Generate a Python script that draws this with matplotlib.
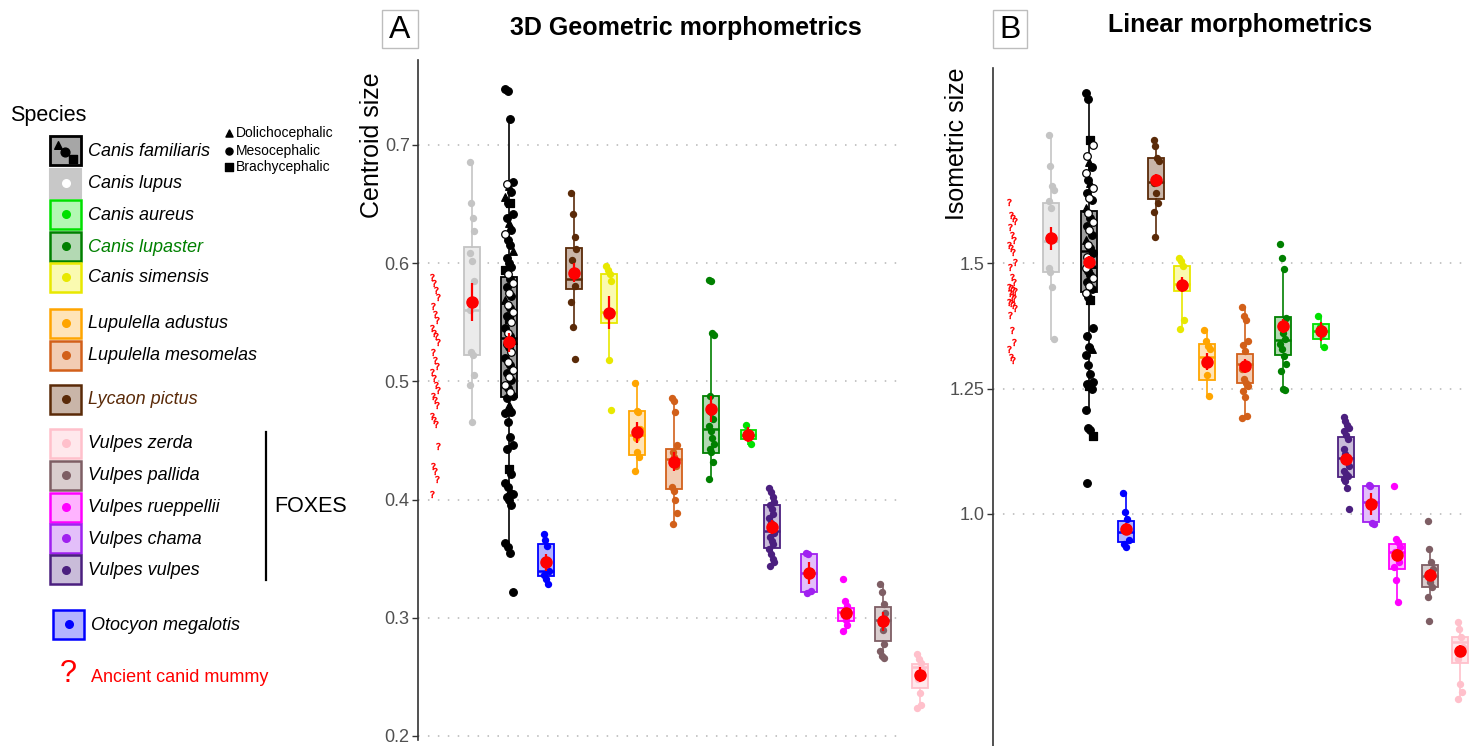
import matplotlib.pyplot as plt
from matplotlib.patches import Rectangle

plt.rcParams['font.family'] = ['Liberation Sans', 'DejaVu Sans']

# species in plotting order
species = ["Canis lupus", "Canis familiaris", "Otocyon megalotis", "Lycaon pictus",
           "Canis simensis", "Lupulella adustus", "Lupulella mesomelas", "Canis lupaster",
           "Canis aureus", "Vulpes vulpes", "Vulpes chama", "Vulpes rueppellii",
           "Vulpes pallida", "Vulpes zerda"]
colors = ["#C4C4C4", "#000000", "#0000FF", "#5A2A08", "#E8E800", "#FFA500", "#D2601A",
          "#008000", "#00E000", "#4B1F7F", "#A020F0", "#FF00FF", "#7E5E64", "#FFC0CB"]
fills = ["#EBEBEB", "#9E9E9E", "#B3B3FF", "#C9B5A8", "#FAFAB0", "#FFE4B8", "#F2CCB3",
         "#B3D9B3", "#B3F8B3", "#C9BCD9", "#E3BFFA", "#FFB3FF", "#D9CDCE", "#FFE8EC"]

# ---------- panel A : centroid size ----------
a_lo   = [0.466, 0.355, 0.329, 0.546, 0.518, 0.424, 0.379, 0.417, 0.447, 0.344, 0.321, 0.289, 0.266, 0.224]
a_q1   = [0.522, 0.487, 0.335, 0.578, 0.549, 0.438, 0.409, 0.439, 0.451, 0.359, 0.322, 0.297, 0.280, 0.241]
a_med  = [0.560, 0.537, 0.340, 0.587, 0.559, 0.455, 0.434, 0.460, 0.455, 0.373, 0.338, 0.305, 0.298, 0.258]
a_q3   = [0.614, 0.588, 0.362, 0.613, 0.591, 0.475, 0.443, 0.488, 0.459, 0.395, 0.354, 0.308, 0.309, 0.261]
a_hi   = [0.686, 0.722, 0.371, 0.659, 0.598, 0.499, 0.486, 0.539, 0.463, 0.410, 0.355, 0.314, 0.329, 0.269]
a_mean = [0.567, 0.533, 0.347, 0.592, 0.558, 0.457, 0.432, 0.477, 0.455, 0.377, 0.338, 0.304, 0.297, 0.252]
a_err  = [0.016, 0.008, 0.007, 0.008, 0.014, 0.009, 0.008, 0.011, 0.006, 0.006, 0.009, 0.004, 0.008, 0.006]

a_pts = [
    [0.686, 0.651, 0.638, 0.627, 0.609, 0.602, 0.585, 0.560, 0.525, 0.522, 0.505, 0.497, 0.466],
    [],
    [0.371, 0.366, 0.361, 0.340, 0.336, 0.333, 0.329],
    [0.659, 0.642, 0.622, 0.612, 0.603, 0.590, 0.581, 0.567, 0.546, 0.519],
    [0.598, 0.594, 0.591, 0.585, 0.555, 0.518, 0.476],
    [0.499, 0.475, 0.474, 0.460, 0.452, 0.440, 0.436, 0.424],
    [0.486, 0.483, 0.474, 0.446, 0.440, 0.436, 0.428, 0.411, 0.407, 0.400, 0.389, 0.379],
    [0.586, 0.585, 0.541, 0.539, 0.488, 0.474, 0.468, 0.462, 0.458, 0.452, 0.447, 0.443, 0.440, 0.432, 0.417],
    [0.463, 0.457, 0.453, 0.447],
    [0.410, 0.406, 0.402, 0.398, 0.395, 0.392, 0.388, 0.384, 0.380, 0.376, 0.372, 0.368, 0.365,
     0.362, 0.358, 0.354, 0.350, 0.347, 0.344],
    [0.355, 0.354, 0.340, 0.323, 0.321],
    [0.333, 0.314, 0.310, 0.306, 0.302, 0.298, 0.294, 0.289],
    [0.329, 0.322, 0.312, 0.304, 0.296, 0.290, 0.278, 0.272, 0.268, 0.266],
    [0.269, 0.265, 0.262, 0.256, 0.248, 0.236, 0.226, 0.224],
]
# domestic dogs: value and skull type (d dolicho, m meso, b brachy, w white)
a_dog = [0.747, 0.746, 0.722, 0.669, 0.667, 0.665, 0.660, 0.656, 0.651, 0.651, 0.642, 0.638,
         0.634, 0.628, 0.625, 0.620, 0.615, 0.610, 0.604, 0.600, 0.597, 0.594, 0.591, 0.587,
         0.583, 0.580, 0.575, 0.572, 0.569, 0.565, 0.562, 0.559, 0.555, 0.553, 0.550, 0.545,
         0.541, 0.538, 0.535, 0.532, 0.529, 0.525, 0.520, 0.516, 0.514, 0.510, 0.507, 0.504,
         0.501, 0.497, 0.494, 0.491, 0.488, 0.486, 0.480, 0.474, 0.473, 0.466, 0.453, 0.446,
         0.443, 0.426, 0.422, 0.414, 0.411, 0.408, 0.405, 0.402, 0.400, 0.395, 0.363, 0.360,
         0.355, 0.322]
a_dog_type = "mmmmwdmdmbmmdmwmmdmmmbwmwmwmdwmwmbwmwmdwmwmwmwmwmwmwmmdmmmmmmbmmmdmmmmmmm"
a_mummy = [0.588, 0.583, 0.577, 0.571, 0.564, 0.557, 0.552, 0.545, 0.541, 0.538, 0.533, 0.525,
           0.518, 0.513, 0.508, 0.503, 0.497, 0.493, 0.488, 0.484, 0.480, 0.471, 0.467, 0.464,
           0.445, 0.428, 0.424, 0.417, 0.405]

# ---------- panel B : isometric size ----------
b_lo   = [1.349, 1.207, 0.934, 1.553, 1.368, 1.235, 1.191, 1.247, 1.334, 1.051, 0.980, 0.824, 0.835, 0.632]
b_q1   = [1.483, 1.442, 0.944, 1.628, 1.445, 1.267, 1.262, 1.317, 1.349, 1.073, 0.985, 0.890, 0.855, 0.702]
b_med  = [1.545, 1.525, 0.965, 1.663, 1.459, 1.314, 1.299, 1.347, 1.365, 1.111, 1.023, 0.924, 0.876, 0.745]
b_q3   = [1.620, 1.604, 0.986, 1.711, 1.495, 1.340, 1.319, 1.392, 1.379, 1.154, 1.056, 0.940, 0.898, 0.754]
b_hi   = [1.756, 1.827, 1.041, 1.746, 1.510, 1.367, 1.413, 1.489, 1.394, 1.193, 1.057, 0.950, 0.930, 0.785]
b_mean = [1.550, 1.503, 0.971, 1.666, 1.457, 1.304, 1.296, 1.374, 1.364, 1.109, 1.020, 0.918, 0.879, 0.727]
b_err  = [0.023, 0.012, 0.012, 0.012, 0.015, 0.017, 0.014, 0.014, 0.018, 0.010, 0.022, 0.012, 0.012, 0.012]

b_pts = [
    [1.756, 1.694, 1.654, 1.646, 1.625, 1.610, 1.548, 1.490, 1.483, 1.452, 1.349],
    [],
    [1.041, 1.003, 0.990, 0.948, 0.940, 0.934],
    [1.746, 1.733, 1.710, 1.705, 1.660, 1.640, 1.620, 1.603, 1.553],
    [1.510, 1.505, 1.495, 1.387, 1.368],
    [1.367, 1.345, 1.335, 1.330, 1.300, 1.277, 1.235],
    [1.413, 1.394, 1.387, 1.345, 1.338, 1.325, 1.300, 1.290, 1.270, 1.262, 1.255, 1.245, 1.233, 1.195, 1.191],
    [1.538, 1.510, 1.489, 1.390, 1.375, 1.360, 1.350, 1.340, 1.330, 1.315, 1.300, 1.285, 1.250, 1.247],
    [1.394, 1.372, 1.358, 1.334],
    [1.193, 1.185, 1.178, 1.172, 1.165, 1.158, 1.150, 1.130, 1.120, 1.110, 1.095, 1.085, 1.080,
     1.075, 1.070, 1.065, 1.051, 1.009],
    [1.057, 1.055, 0.982, 0.980],
    [1.056, 0.950, 0.945, 0.935, 0.925, 0.915, 0.905, 0.895, 0.868, 0.824],
    [0.987, 0.930, 0.905, 0.890, 0.880, 0.865, 0.855, 0.835, 0.787],
    [0.785, 0.770, 0.754, 0.735, 0.710, 0.660, 0.645, 0.632],
]
b_dog = [1.840, 1.827, 1.746, 1.736, 1.713, 1.703, 1.693, 1.680, 1.666, 1.660, 1.650, 1.640,
         1.630, 1.626, 1.610, 1.600, 1.590, 1.583, 1.575, 1.566, 1.556, 1.546, 1.536, 1.530,
         1.520, 1.512, 1.505, 1.498, 1.490, 1.484, 1.476, 1.470, 1.462, 1.455, 1.448, 1.440,
         1.432, 1.427, 1.370, 1.355, 1.334, 1.330, 1.317, 1.297, 1.280, 1.264, 1.260, 1.255,
         1.250, 1.207, 1.171, 1.167, 1.156, 1.061]
b_dog_type = "mmbwwdmwmdwmwmdwmwmwmdwmmwmdwmmwmwmwmbmmmdmmmmmbmmmmbm"
b_mummy = [1.623, 1.596, 1.590, 1.585, 1.573, 1.556, 1.546, 1.537, 1.530, 1.523, 1.503, 1.493,
           1.473, 1.463, 1.452, 1.450, 1.447, 1.445, 1.440, 1.433, 1.430, 1.423, 1.420, 1.417,
           1.410, 1.397, 1.367, 1.343, 1.330, 1.314, 1.307]

# slot positions of the columns (mummy first, then species order)
a_slot = [0, 1.0, 2.0, 3.0, 3.75, 4.7, 5.47, 6.47, 7.47, 8.47, 9.1, 10.1, 11.1, 12.1, 13.1]
b_slot = [0, 1.03, 2.03, 3.0, 3.79, 4.47, 5.13, 6.13, 7.13, 8.13, 8.79, 9.45, 10.13, 11.0, 11.79]

W, H = 1475, 746
fig = plt.figure(figsize=(W / 100, H / 100), dpi=100)


def px_axes(l, t, r, b):
    return fig.add_axes([l / W, 1 - b / H, (r - l) / W, (b - t) / H])


def jit(i):
    return ((i * 37) % 7 - 3) * 0.032


dog_style = {'m': ('o', 'black'), 'd': ('^', 'black'), 'b': ('s', 'black'), 'w': ('o', 'white')}


def draw_panel(ax, slot, lo, q1, med, q3, hi, mean, err, pts, dog, dog_type, mummy,
               xlim, ylim, ticks, tlabels, grid_frac):
    dog_type = dog_type.ljust(len(dog), 'm')
    for t in ticks:
        ax.axhline(t, xmin=0, xmax=grid_frac, color='#B5B5B5', lw=1.1,
                   ls=(0, (1, 5.5)), zorder=0)
    for i in range(len(species)):
        x = slot[i + 1]
        c = colors[i]
        stats = [{'whislo': lo[i], 'q1': q1[i], 'med': med[i], 'q3': q3[i], 'whishi': hi[i]}]
        ax.bxp(stats, positions=[x], widths=0.43, showfliers=False, showcaps=False,
               patch_artist=True,
               boxprops=dict(facecolor=fills[i], edgecolor=c, lw=1.3),
               medianprops=dict(color=c, lw=1.8),
               whiskerprops=dict(color=c, lw=1.4, alpha=0.85), zorder=2)
        vals = pts[i]
        ax.scatter([x + jit(k) * 0.7 for k in range(len(vals))], vals, s=28, color=c,
                   lw=0, zorder=3)
    # domestic dogs, shaped by skull type
    x = slot[2]
    for code, (mk, fc) in dog_style.items():
        xs = [x + jit(k) for k in range(len(dog)) if dog_type[k] == code]
        ys = [dog[k] for k in range(len(dog)) if dog_type[k] == code]
        ax.scatter(xs, ys, s=30, marker=mk, facecolor=fc, edgecolor='black',
                   lw=0.9, zorder=3)
    # means with error bars
    ax.errorbar(slot[1:], mean, yerr=err, fmt='o', color='red', ms=8, elinewidth=1.6,
                capsize=0, zorder=5)
    # mummy specimens
    ax.scatter([slot[0] + jit(k) * 0.8 for k in range(len(mummy))], mummy, marker='$?$',
               s=24, color='red', lw=0.4, zorder=4)
    ax.set_xlim(*xlim)
    ax.set_ylim(*ylim)
    ax.set_xticks([])
    ax.set_yticks(ticks)
    ax.set_yticklabels(tlabels)
    ax.tick_params(axis='y', length=4, width=1, color='#333333', labelcolor='#505050',
                   labelsize=13, pad=2)
    for s in ['top', 'right', 'bottom']:
        ax.spines[s].set_visible(False)
    ax.spines['left'].set_color('#333333')
    ax.spines['left'].set_linewidth(1.2)
    ax.patch.set_alpha(0)


axA = px_axes(418, 60, 935, 740)
draw_panel(axA, a_slot, a_lo, a_q1, a_med, a_q3, a_hi, a_mean, a_err, a_pts, a_dog,
           a_dog_type, a_mummy, (-0.459, 13.51), (0.1966, 0.7719),
           [0.2, 0.3, 0.4, 0.5, 0.6, 0.7], ['0.2', '0.3', '0.4', '0.5', '0.6', '0.7'], 0.928)

axB = px_axes(993, 68, 1470, 746)
draw_panel(axB, b_slot, b_lo, b_q1, b_med, b_q3, b_hi, b_mean, b_err, b_pts, b_dog,
           b_dog_type, b_mummy, (-0.5, 12.05), (0.5373, 1.8895),
           [1.0, 1.25, 1.5], ['1.0', '1.25', '1.5'], 0.985)

# ---------- annotations in figure pixels ----------
top = px_axes(0, 0, W, H)
top.set_xlim(0, W)
top.set_ylim(H, 0)
top.axis('off')
top.patch.set_alpha(0)

top.text(686, 28, "3D Geometric morphometrics", fontsize=18, fontweight='bold',
         ha='center', va='center')
top.text(1240, 25, "Linear morphometrics", fontsize=18, fontweight='bold',
         ha='center', va='center')
for (x0, x1, lab) in [(382, 418, "A"), (993, 1027, "B")]:
    top.add_patch(Rectangle((x0, 10), x1 - x0, 38, fc='white', ec='#BDBDBD', lw=1))
    top.text((x0 + x1) / 2, 30.5, lab, fontsize=23, ha='center', va='center')
top.text(372, 145, "Centroid size", fontsize=18, rotation=90, ha='center', va='center')
top.text(957, 144, "Isometric size", fontsize=18, rotation=90, ha='center', va='center')

# ---------- legend ----------
leg_order = [1, 0, 8, 7, 4, 5, 6, 3, 13, 12, 11, 10, 9, 2]
leg_y = [150.5, 183, 214, 246, 277, 323, 355, 399, 443, 475, 507, 538, 569.5, 624]

top.text(10, 116, "Species", fontsize=15.5, va='center')
for k, i in enumerate(leg_order):
    y = leg_y[k]
    x0 = 53 if i == 2 else 50
    if i == 1:
        top.add_patch(Rectangle((x0, y - 14.5), 31, 29, fc='#A6A6A6', ec='black', lw=2))
        top.scatter([x0 + 8], [y - 6], marker='^', s=30, color='black')
        top.scatter([x0 + 15], [y + 1], marker='o', s=40, color='black')
        top.scatter([x0 + 23], [y + 8], marker='s', s=30, color='black')
    elif i == 0:
        top.add_patch(Rectangle((x0, y - 14.5), 31, 29, fc='#C8C8C8', ec='#C8C8C8', lw=1.5))
        top.scatter([x0 + 15.5], [y], s=30, color='white')
    else:
        top.add_patch(Rectangle((x0, y - 14.5), 31, 29, fc=fills[i], ec=colors[i], lw=1.8))
        top.scatter([x0 + 15.5], [y], s=30, color=colors[i])
    tc = 'black'
    if i == 7:
        tc = '#008000'
    elif i == 3:
        tc = '#5A2A08'
    top.text(x0 + 38, y + 1, species[i], fontsize=13, style='italic', color=tc, va='center')

# skull shapes
for y, mk, lab in [(133, '^', "Dolichocephalic"), (151, 'o', "Mesocephalic"),
                   (167, 's', "Brachycephalic")]:
    top.scatter([229], [y], marker=mk, s=26, color='black')
    top.text(236, y, lab, fontsize=10, va='center')

top.plot([266, 266], [432, 580], color='black', lw=1.6)
top.text(274, 507, "FOXES", fontsize=15.5, va='center')

top.text(68, 674, "?", fontsize=22, color='red', ha='center', va='center')
top.text(91, 678, "Ancient canid mummy", fontsize=13, color='red', va='center')

fig.savefig("out.png", dpi=100)
